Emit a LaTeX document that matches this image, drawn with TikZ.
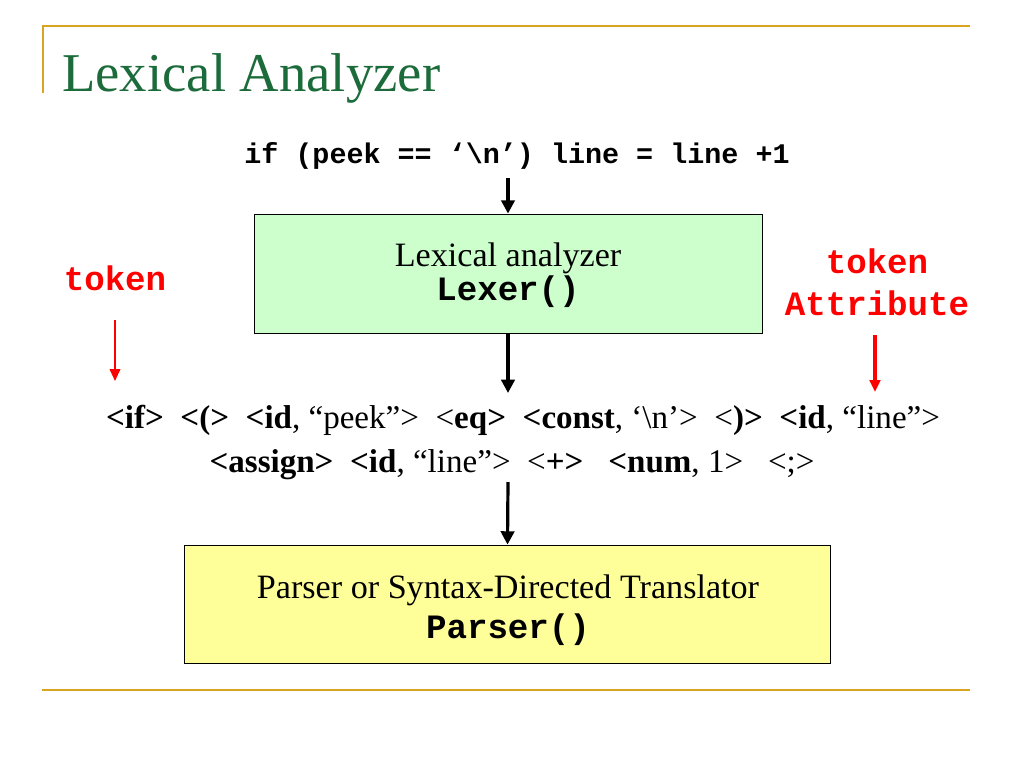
\documentclass[tikz,border=0pt]{standalone}
\usepackage{fontspec}
\setmainfont{Liberation Serif}
\setmonofont{Liberation Mono}
\usetikzlibrary{arrows.meta}
\definecolor{gold}{HTML}{D9A521}
\definecolor{titlegreen}{HTML}{1C6B3A}
\definecolor{lexfill}{HTML}{CCFFCC}
\definecolor{parfill}{HTML}{FFFF99}
\definecolor{tokred}{HTML}{FF0000}
\begin{document}
\begin{tikzpicture}[x=0.75pt,y=-0.75pt,
  rule/.style={draw=gold, line width=1.6pt},
  boxnode/.style={draw=black, line width=0.6pt, inner sep=0pt},
  txt/.style={inner sep=0pt, anchor=base},
  serif/.style={font=\fontsize{25.6}{30}\selectfont},
  tokfont/.style={font=\fontsize{24.8}{30}\selectfont},
  mono/.style={font=\fontsize{25.6}{30}\selectfont\ttfamily\bfseries},
  redlab/.style={txt, text=tokred, font=\fontsize{25.6}{30}\selectfont\ttfamily\bfseries},
  flow/.style={draw=black, line width=2.4pt, -{Triangle[length=10pt,width=10pt]}},
  redarrow/.style={draw=tokred, -{Triangle[length=9pt,width=8pt]}}
]
\useasboundingbox (0,0) rectangle (1024,768);

% decorative rules
\coordinate (r1) at (43,93);
\coordinate (r2) at (43,26);
\coordinate (r3) at (970,26);
\coordinate (r4) at (42,690);
\coordinate (r5) at (970,690);
\draw[rule] (r1) -- (r2) -- (r3);
\draw[rule] (r4) -- (r5);

% title
\node[txt, anchor=base west, text=titlegreen, font=\fontsize{41}{48}\selectfont] (title) at (62,91) {Lexical Analyzer};

% source code line
\node[txt, font=\fontsize{21.3}{26}\selectfont\ttfamily\bfseries] (code) at (517,163) {if (peek == ‘\textbackslash n’) line = line +1};
\coordinate (codebot) at (508,178);

% lexical analyzer box
\node[boxnode, fill=lexfill, minimum width=381pt, minimum height=89.25pt] (lexer) at (508,273.5) {};
\node[txt, serif] (lexl1) at (508,266) {Lexical analyzer};
\node[txt, mono] (lexl2) at (508,300) {Lexer()};

% red labels
\node[redlab] (tokL) at (115,290) {token};
\coordinate (tokLa) at (115,320);
\coordinate (tokLb) at (115,381);
\node[redlab] (tokR) at (877,273) {token};
\node[redlab] (attR) at (877,315) {Attribute};
\coordinate (tokRa) at (875,335);
\coordinate (tokRb) at (875,392);
\draw[redarrow, line width=1.3pt] (tokLa) -- (tokLb);
\draw[redarrow, line width=2.6pt] (tokRa) -- (tokRb);

% token stream
\node[txt, tokfont] (tok1) at (523,428) {\textbf{<if>}\ \ \textbf{<(>}\ \ \textbf{<id}, “peek”>\ \ <\textbf{eq>}\ \ \textbf{<const}, ‘\textbackslash n’>\ \ <\textbf{)>}\ \ \textbf{<id}, “line”>};
\node[txt, tokfont] (tok2) at (512,472) {\textbf{<assign>}\ \ \textbf{<id}, “line”>\ \ <\textbf{+>}\ \ \ \textbf{<num}, 1>\ \ \ <;>};
\coordinate (tokin) at (508,393);
\coordinate (tokout) at (508,482);

% parser box
\node[boxnode, fill=parfill, minimum width=484.5pt, minimum height=88.5pt] (parser) at (507.5,604) {};
\node[txt, serif] (parl1) at (508,598) {Parser or Syntax-Directed Translator};
\node[txt, mono] (parl2) at (508,638) {Parser()};

% flow arrows
\draw[flow] (codebot) -- (lexer.north);
\draw[flow] (lexer.south) -- (tokin);
\draw[flow] (tokout) -- (parser.north);
\end{tikzpicture}
\end{document}
